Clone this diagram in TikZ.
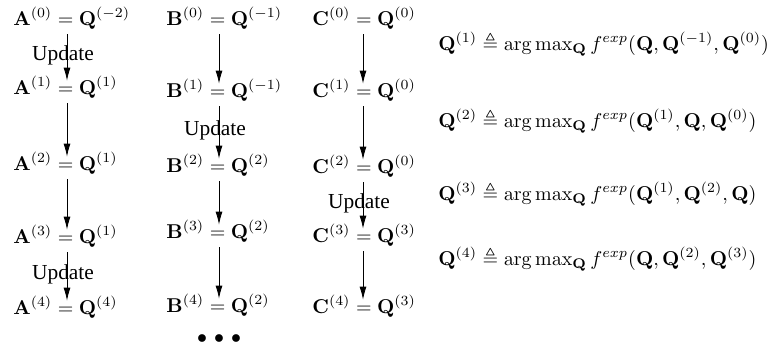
\documentclass[tikz,border=0pt]{standalone}
\usepackage{amsmath,amssymb}
\usepackage[no-math]{fontspec}
\setmainfont{Liberation Serif}
\usetikzlibrary{arrows.meta}
\tikzset{
  eq/.style={anchor=base west, inner sep=0pt, text height=6.5pt, text depth=4.5pt},
  upd/.style={midway, xshift=-2pt, yshift=1pt, font=\fontsize{10.7pt}{12pt}\selectfont},
  ar/.style={thin, -{Latex[length=6.5pt,width=3.5pt]}},
}

\begin{document}
\begin{tikzpicture}[x=0.5pt,y=-0.5pt]
\useasboundingbox (0,0) rectangle (769,345);
% columns of arrows
\coordinate (ca) at (67,0);
\coordinate (cb) at (219,0);
\coordinate (cc) at (363,0);
% A column
\node[eq] (a0) at (13,25)  {$\mathbf{A}^{(0)}=\mathbf{Q}^{(-2)}$};
\node[eq] (a1) at (13,94)  {$\mathbf{A}^{(1)}=\mathbf{Q}^{(1)}$};
\node[eq] (a2) at (13,170) {$\mathbf{A}^{(2)}=\mathbf{Q}^{(1)}$};
\node[eq] (a3) at (13,243) {$\mathbf{A}^{(3)}=\mathbf{Q}^{(1)}$};
\node[eq] (a4) at (13,314) {$\mathbf{A}^{(4)}=\mathbf{Q}^{(4)}$};
% B column
\node[eq] (b0) at (166,25)  {$\mathbf{B}^{(0)}=\mathbf{Q}^{(-1)}$};
\node[eq] (b1) at (166,97)  {$\mathbf{B}^{(1)}=\mathbf{Q}^{(-1)}$};
\node[eq] (b2) at (166,172) {$\mathbf{B}^{(2)}=\mathbf{Q}^{(2)}$};
\node[eq] (b3) at (166,238) {$\mathbf{B}^{(3)}=\mathbf{Q}^{(2)}$};
\node[eq] (b4) at (166,312) {$\mathbf{B}^{(4)}=\mathbf{Q}^{(2)}$};
% C column
\node[eq] (c0) at (312,25)  {$\mathbf{C}^{(0)}=\mathbf{Q}^{(0)}$};
\node[eq] (c1) at (312,97)  {$\mathbf{C}^{(1)}=\mathbf{Q}^{(0)}$};
\node[eq] (c2) at (312,173) {$\mathbf{C}^{(2)}=\mathbf{Q}^{(0)}$};
\node[eq] (c3) at (312,242) {$\mathbf{C}^{(3)}=\mathbf{Q}^{(3)}$};
\node[eq] (c4) at (312,313) {$\mathbf{C}^{(4)}=\mathbf{Q}^{(3)}$};
\node (dots) at (219,339) {$\bullet$\hspace{3.5pt}$\bullet$\hspace{3.5pt}$\bullet$};
% updates
\node[eq] (q1) at (438,50)  {$\mathbf{Q}^{(1)}\triangleq\arg\max_{\mathbf{Q}} f^{exp}(\mathbf{Q},\mathbf{Q}^{(-1)},\mathbf{Q}^{(0)})$};
\node[eq] (q2) at (438,127) {$\mathbf{Q}^{(2)}\triangleq\arg\max_{\mathbf{Q}} f^{exp}(\mathbf{Q}^{(1)},\mathbf{Q},\mathbf{Q}^{(0)})$};
\node[eq] (q3) at (438,200) {$\mathbf{Q}^{(3)}\triangleq\arg\max_{\mathbf{Q}} f^{exp}(\mathbf{Q}^{(1)},\mathbf{Q}^{(2)},\mathbf{Q})$};
\node[eq] (q4) at (438,265) {$\mathbf{Q}^{(4)}\triangleq\arg\max_{\mathbf{Q}} f^{exp}(\mathbf{Q},\mathbf{Q}^{(2)},\mathbf{Q}^{(3)})$};
% arrows
\draw[ar] (a0.south -| ca) -- node[upd] {Update} (a1.north -| ca);
\draw[ar] (a1.south -| ca) -- (a2.north -| ca);
\draw[ar] (a2.south -| ca) -- (a3.north -| ca);
\draw[ar] (a3.south -| ca) -- node[upd] {Update} (a4.north -| ca);
\draw[ar] (b0.south -| cb) -- (b1.north -| cb);
\draw[ar] (b1.south -| cb) -- node[upd] {Update} (b2.north -| cb);
\draw[ar] (b2.south -| cb) -- (b3.north -| cb);
\draw[ar] (b3.south -| cb) -- (b4.north -| cb);
\draw[ar] (c0.south -| cc) -- (c1.north -| cc);
\draw[ar] (c1.south -| cc) -- (c2.north -| cc);
\draw[ar] (c2.south -| cc) -- node[upd] {Update} (c3.north -| cc);
\draw[ar] (c3.south -| cc) -- (c4.north -| cc);
\end{tikzpicture}
\end{document}
